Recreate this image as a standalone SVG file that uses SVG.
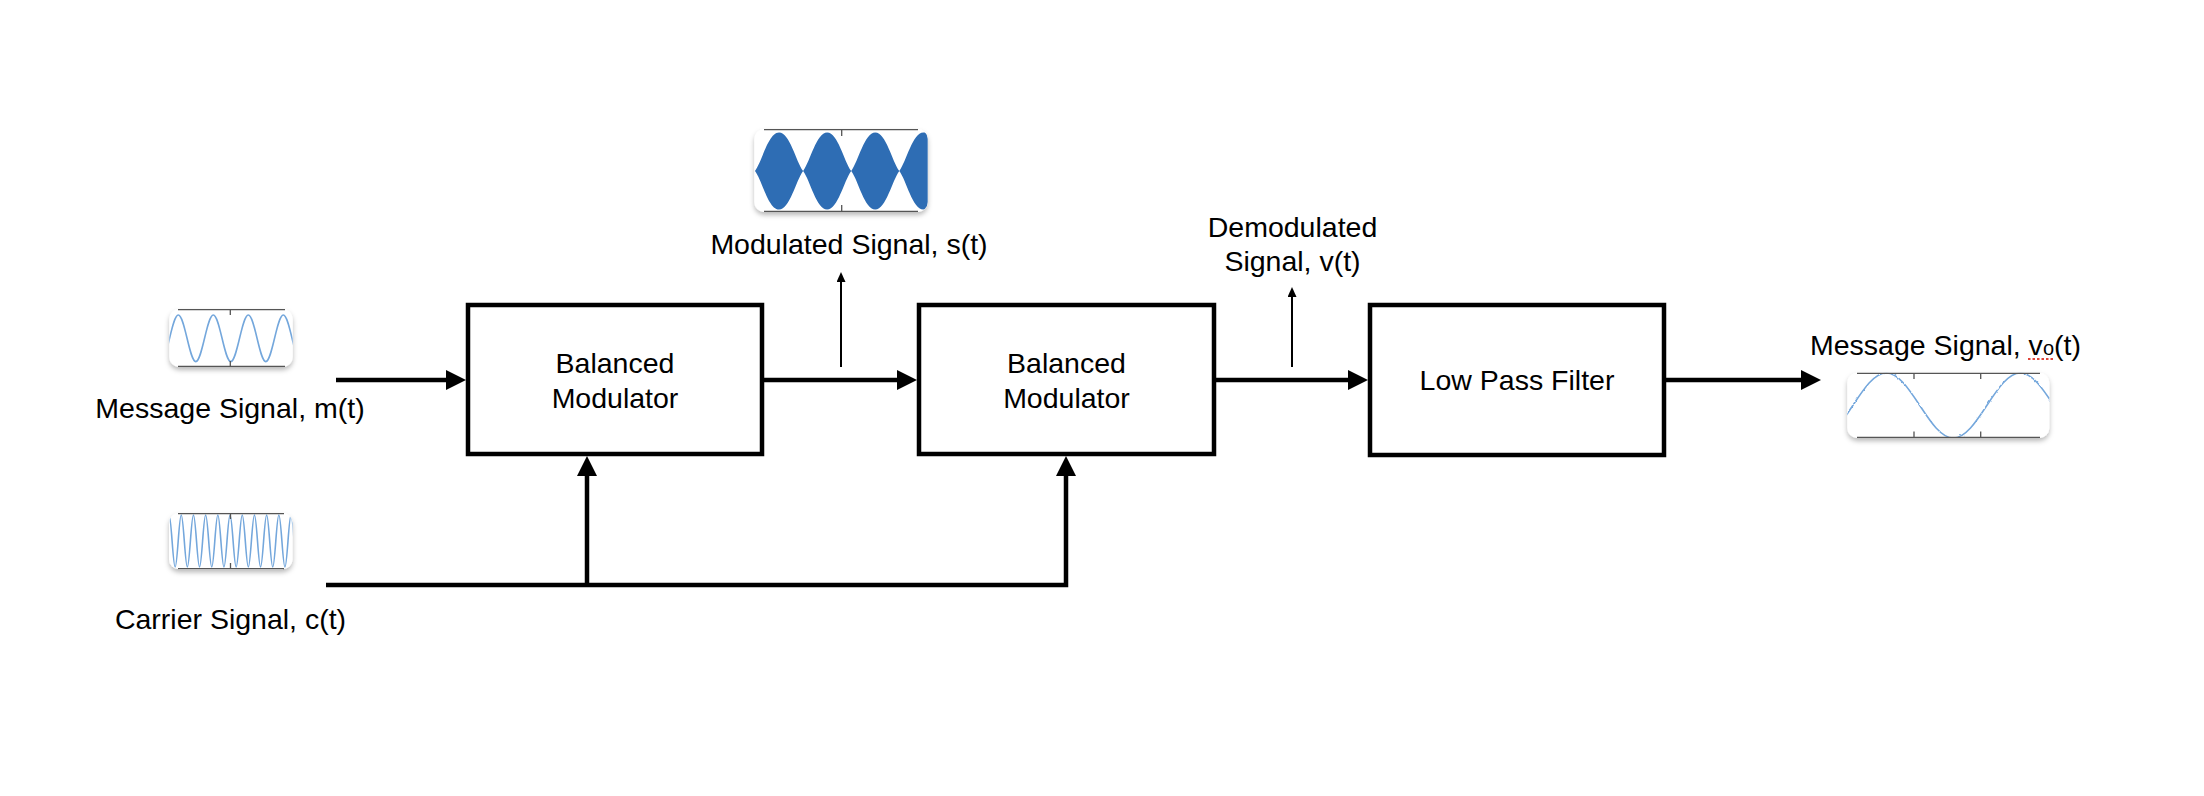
<svg xmlns="http://www.w3.org/2000/svg" width="2204" height="796" viewBox="0 0 2204 796">
<style>
.box{fill:#fff;stroke:#000;stroke-width:4.5}
.thick{fill:none;stroke:#000;stroke-width:4.5;stroke-linejoin:miter}
.thin{fill:none;stroke:#000;stroke-width:2}
.lbl{font-family:"Liberation Sans",Arial,sans-serif;font-size:28.5px;fill:#000}
.frame{fill:#fff}
.axis{fill:none;stroke:#555;stroke-width:1.3}
.wave{fill:none;stroke:#74a7dc;stroke-width:1.6}
</style>
<defs>
<marker id="ah" markerUnits="userSpaceOnUse" viewBox="0 0 20 20" markerWidth="20" markerHeight="20" refX="10" refY="10" orient="auto"><path d="M0,0 L20,10 L0,20 z" fill="#000"/></marker>
<marker id="ahs" markerUnits="userSpaceOnUse" viewBox="0 0 10 9" markerWidth="10" markerHeight="9" refX="5" refY="4.5" orient="auto"><path d="M0,0 L10,4.5 L0,9 z" fill="#000"/></marker>
<filter id="sh" x="-10%" y="-20%" width="120%" height="150%"><feDropShadow dx="0" dy="3" stdDeviation="2.5" flood-color="#000" flood-opacity="0.28"/></filter>
<filter id="rip" x="-5%" y="-10%" width="110%" height="120%"><feTurbulence type="fractalNoise" baseFrequency="0.3 0.3" numOctaves="1" seed="4" result="n"/><feDisplacementMap in="SourceGraphic" in2="n" scale="2.5" xChannelSelector="R" yChannelSelector="G"/></filter>
<clipPath id="cm"><rect x="169.3" y="309" width="123.4" height="58" rx="10"/></clipPath>
<clipPath id="cc"><rect x="169" y="513" width="123.5" height="56.3" rx="10"/></clipPath>
<clipPath id="cs"><rect x="754.3" y="129" width="173.4" height="83" rx="10"/></clipPath>
<clipPath id="co"><rect x="1847.3" y="372.7" width="202" height="65.3" rx="10"/></clipPath>
</defs>

<g id="sig-message">
<rect class="frame" x="169.3" y="309" width="123.4" height="58" rx="10" filter="url(#sh)"/>
<path class="wave" clip-path="url(#cm)" d="M160.8,361.6 c3.17,0 5.9,-11.36 8.75,-23.3 c2.85,-11.94 5.58,-23.3 8.75,-23.3 c3.17,0 5.9,11.36 8.75,23.3 c2.85,11.94 5.58,23.3 8.75,23.3 c3.17,0 5.9,-11.36 8.75,-23.3 c2.85,-11.94 5.58,-23.3 8.75,-23.3 c3.17,0 5.9,11.36 8.75,23.3 c2.85,11.94 5.58,23.3 8.75,23.3 c3.17,0 5.9,-11.36 8.75,-23.3 c2.85,-11.94 5.58,-23.3 8.75,-23.3 c3.17,0 5.9,11.36 8.75,23.3 c2.85,11.94 5.58,23.3 8.75,23.3 c3.17,0 5.9,-11.36 8.75,-23.3 c2.85,-11.94 5.58,-23.3 8.75,-23.3 c3.17,0 5.9,11.36 8.75,23.3 c2.85,11.94 5.58,23.3 8.75,23.3"/>
<path class="axis" d="M178,309.6 H285 M178,366.4 H285 M230.3,309 V315 M230.3,361 V367"/>
<text class="lbl" x="230" y="418" text-anchor="middle">Message Signal, m(t)</text>
</g>

<g id="sig-carrier">
<rect class="frame" x="169" y="513" width="123.5" height="56.3" rx="10" filter="url(#sh)"/>
<path class="wave" clip-path="url(#cc)" d="M166,541 c0.99,-13.32 1.95,-26 3.05,-26 c1.1,0 2.06,12.68 3.05,26 c0.99,13.32 1.95,26 3.05,26 c1.1,0 2.06,-12.68 3.05,-26 c0.99,-13.32 1.95,-26 3.05,-26 c1.1,0 2.06,12.68 3.05,26 c0.99,13.32 1.95,26 3.05,26 c1.1,0 2.06,-12.68 3.05,-26 c0.99,-13.32 1.95,-26 3.05,-26 c1.1,0 2.06,12.68 3.05,26 c0.99,13.32 1.95,26 3.05,26 c1.1,0 2.06,-12.68 3.05,-26 c0.99,-13.32 1.95,-26 3.05,-26 c1.1,0 2.06,12.68 3.05,26 c0.99,13.32 1.95,26 3.05,26 c1.1,0 2.06,-12.68 3.05,-26 c0.99,-13.32 1.95,-26 3.05,-26 c1.1,0 2.06,12.68 3.05,26 c0.99,13.32 1.95,26 3.05,26 c1.1,0 2.06,-12.68 3.05,-26 c0.99,-13.32 1.95,-26 3.05,-26 c1.1,0 2.06,12.68 3.05,26 c0.99,13.32 1.95,26 3.05,26 c1.1,0 2.06,-12.68 3.05,-26 c0.99,-13.32 1.95,-26 3.05,-26 c1.1,0 2.06,12.68 3.05,26 c0.99,13.32 1.95,26 3.05,26 c1.1,0 2.06,-12.68 3.05,-26 c0.99,-13.32 1.95,-26 3.05,-26 c1.1,0 2.06,12.68 3.05,26 c0.99,13.32 1.95,26 3.05,26 c1.1,0 2.06,-12.68 3.05,-26 c0.99,-13.32 1.95,-26 3.05,-26 c1.1,0 2.06,12.68 3.05,26 c0.99,13.32 1.95,26 3.05,26 c1.1,0 2.06,-12.68 3.05,-26 c0.99,-13.32 1.95,-26 3.05,-26 c1.1,0 2.06,12.68 3.05,26 c0.99,13.32 1.95,26 3.05,26 c1.1,0 2.06,-12.68 3.05,-26 c0.99,-13.32 1.95,-26 3.05,-26 c1.1,0 2.06,12.68 3.05,26 c0.99,13.32 1.95,26 3.05,26 c1.1,0 2.06,-12.68 3.05,-26"/>
<path class="axis" d="M178,513.6 H284 M178,568.7 H284 M230.5,513 V519 M230.5,563 V569"/>
<text class="lbl" x="230.5" y="629" text-anchor="middle">Carrier Signal, c(t)</text>
</g>

<g id="sig-modulated">
<rect class="frame" x="754.3" y="129" width="173.4" height="83" rx="10" filter="url(#sh)"/>
<path clip-path="url(#cs)" fill="#2e6db4" d="M755,171 c7.22,-9.63 13.23,-38.5 24.05,-38.5 c10.82,0 16.84,28.88 24.05,38.5 c-7.22,9.63 -13.23,38.5 -24.05,38.5 c-10.82,0 -16.84,-28.88 -24.05,-38.5 z M803.1,171 c7.22,-9.63 13.23,-38.5 24.05,-38.5 c10.82,0 16.84,28.88 24.05,38.5 c-7.22,9.63 -13.23,38.5 -24.05,38.5 c-10.82,0 -16.84,-28.88 -24.05,-38.5 z M851.2,171 c7.22,-9.63 13.23,-38.5 24.05,-38.5 c10.82,0 16.84,28.88 24.05,38.5 c-7.22,9.63 -13.23,38.5 -24.05,38.5 c-10.82,0 -16.84,-28.88 -24.05,-38.5 z M899.3,171 c7.22,-9.63 13.23,-38.5 24.05,-38.5 c10.82,0 16.84,28.88 24.05,38.5 c-7.22,9.63 -13.23,38.5 -24.05,38.5 c-10.82,0 -16.84,-28.88 -24.05,-38.5 z"/>
<path class="axis" d="M764,129.6 H918 M764,211.4 H918 M841.7,129 V136 M841.7,205 V212"/>
<text class="lbl" x="849" y="254" text-anchor="middle">Modulated Signal, s(t)</text>
</g>

<g id="sig-demodulated">
<text class="lbl" x="1292.5" y="237" text-anchor="middle">Demodulated</text>
<text class="lbl" x="1292.5" y="271" text-anchor="middle">Signal, v(t)</text>
</g>

<g id="sig-output">
<rect class="frame" x="1847.3" y="372.7" width="202" height="65.3" rx="10" filter="url(#sh)"/>
<g clip-path="url(#co)"><path class="wave" filter="url(#rip)" d="M1819.3,438 c12.12,0 22.58,-15.85 33.5,-32.5 c10.92,-16.65 21.38,-32.5 33.5,-32.5 c12.12,0 22.58,15.85 33.5,32.5 c10.92,16.65 21.38,32.5 33.5,32.5 c12.12,0 22.58,-15.85 33.5,-32.5 c10.92,-16.65 21.38,-32.5 33.5,-32.5 c12.12,0 22.58,15.85 33.5,32.5"/></g>
<path class="axis" d="M1857,373.3 H2040 M1857,437.4 H2040 M1914,372.7 V379 M1980.7,372.7 V379 M1914,431.5 V438 M1980.7,431.5 V438"/>
<text class="lbl" x="1810" y="355">Message Signal, v<tspan font-size="20px">o</tspan>(t)</text>
<line x1="2028" y1="359" x2="2054" y2="359" stroke="#e0453a" stroke-width="2" stroke-dasharray="2.5 2"/>
</g>

<g id="node-bm1">
<rect class="box" x="468" y="305" width="294" height="149"/>
<text class="lbl" x="615" y="373" text-anchor="middle">Balanced</text>
<text class="lbl" x="615" y="408" text-anchor="middle">Modulator</text>
</g>
<g id="node-bm2">
<rect class="box" x="919" y="305" width="295" height="149"/>
<text class="lbl" x="1066.5" y="373" text-anchor="middle">Balanced</text>
<text class="lbl" x="1066.5" y="408" text-anchor="middle">Modulator</text>
</g>
<g id="node-lpf">
<rect class="box" x="1370" y="305" width="294" height="150"/>
<text class="lbl" x="1517" y="390" text-anchor="middle">Low Pass Filter</text>
</g>

<g id="connectors">
<path class="thick" d="M336,380 H456" marker-end="url(#ah)"/>
<path class="thick" d="M764,380 H907" marker-end="url(#ah)"/>
<path class="thick" d="M1216,380 H1358" marker-end="url(#ah)"/>
<path class="thick" d="M1666,380 H1811" marker-end="url(#ah)"/>
<path class="thick" d="M326,585 H1066 V466" marker-end="url(#ah)"/>
<path class="thick" d="M587,585 V466" marker-end="url(#ah)"/>
<path class="thin" d="M841,367 V277" marker-end="url(#ahs)"/>
<path class="thin" d="M1292,367 V292" marker-end="url(#ahs)"/>
</g>
</svg>
